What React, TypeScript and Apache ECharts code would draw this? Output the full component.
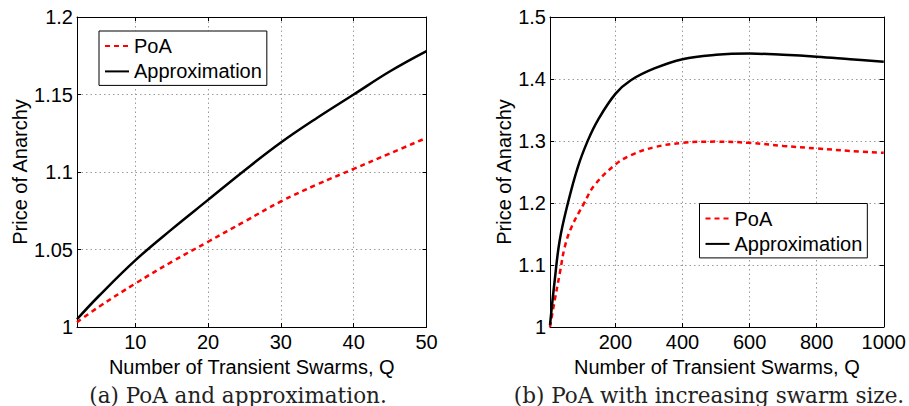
import React, { useEffect, useRef } from "react";
import * as echarts from "echarts";

// Left panel: Q from 2 to 50
const leftQ = [2, 5, 10, 15, 20, 25, 30, 35, 40, 45, 50];
const leftPoA = [1.003, 1.013, 1.028, 1.042, 1.055, 1.068, 1.081, 1.092, 1.102, 1.112, 1.122];
const leftApprox = [1.005, 1.02, 1.043, 1.063, 1.082, 1.101, 1.119, 1.135, 1.15, 1.165, 1.178];

// Right panel: Q up to 1000
const rightPoAQ = [5, 19, 34, 49, 69, 106, 138, 200, 246, 316, 400, 500, 600, 700, 800, 900, 1000];
const rightPoA = [1.0, 1.043, 1.086, 1.129, 1.161, 1.199, 1.229, 1.262, 1.277, 1.29, 1.297, 1.299, 1.297, 1.292, 1.288, 1.284, 1.281];
const rightApproxQ = [5, 19, 34, 58, 88, 118, 147, 200, 246, 316, 400, 500, 600, 700, 800, 900, 1000];
const rightApprox = [1.003, 1.075, 1.14, 1.199, 1.258, 1.301, 1.333, 1.376, 1.398, 1.417, 1.432, 1.439, 1.441, 1.439, 1.436, 1.432, 1.428];

const seriesNames = ["PoA", "Approximation"];
const xAxisTitle = "Number of Transient Swarms, Q";
const yAxisTitle = "Price of Anarchy";
const captions = ["(a) PoA and approximation.", "(b) PoA with increasing swarm size."];

const SANS = "Liberation Sans";

const pair = (xs: number[], ys: number[]) => xs.map((x, i) => [x, ys[i]]);

function mainX(gridIndex: number, min: number, max: number) {
  return {
    gridIndex,
    type: "value",
    min,
    max,
    position: "bottom",
    axisLine: { show: true, onZero: false, lineStyle: { color: "#000", width: 1 } },
    axisTick: { show: true, inside: true, length: 4, lineStyle: { color: "#000" } },
    axisLabel: {
      showMinLabel: false,
      color: "#000",
      fontSize: 20,
      fontFamily: SANS,
      margin: 5,
      formatter: (v: number) => String(v),
    },
    splitLine: { show: true, lineStyle: { color: "#9a9a9a", type: [1.5, 3], width: 1 } },
    name: xAxisTitle,
    nameLocation: "middle",
    nameGap: 23,
    nameTextStyle: { color: "#000", fontSize: 20, fontFamily: SANS },
  };
}
function topX(gridIndex: number, min: number, max: number) {
  return {
    gridIndex,
    type: "value",
    min,
    max,
    position: "top",
    axisLine: { show: true, onZero: false, lineStyle: { color: "#000", width: 1 } },
    axisTick: { show: true, inside: true, length: 4, lineStyle: { color: "#000" } },
    axisLabel: { show: false },
    splitLine: { show: false },
  };
}
function mainY(gridIndex: number, min: number, max: number, interval: number, gap: number) {
  return {
    gridIndex,
    type: "value",
    min,
    max,
    interval,
    position: "left",
    axisLine: { show: true, onZero: false, lineStyle: { color: "#000", width: 1 } },
    axisTick: { show: true, inside: true, length: 4, lineStyle: { color: "#000" } },
    axisLabel: { color: "#000", fontSize: 20, fontFamily: SANS, margin: 4 },
    splitLine: { show: true, lineStyle: { color: "#9a9a9a", type: [1.5, 3], width: 1 } },
    name: yAxisTitle,
    nameLocation: "middle",
    nameGap: gap,
    nameTextStyle: { color: "#000", fontSize: 20, fontFamily: SANS },
  };
}
function rightY(gridIndex: number, min: number, max: number, interval: number) {
  return {
    gridIndex,
    type: "value",
    min,
    max,
    interval,
    position: "right",
    axisLine: { show: true, onZero: false, lineStyle: { color: "#000", width: 1 } },
    axisTick: { show: true, inside: true, length: 4, lineStyle: { color: "#000" } },
    axisLabel: { show: false },
    splitLine: { show: false },
  };
}

function lineSeries(name: string, xi: number, data: number[][], dashed: boolean) {
  return {
    type: "line",
    name,
    xAxisIndex: xi,
    yAxisIndex: xi,
    data,
    symbol: "none",
    showSymbol: false,
    smooth: 0.4,
    lineStyle: dashed ? { color: "#ff0000", width: 2.5, type: [5, 4] } : { color: "#000", width: 2.5 },
    itemStyle: { color: dashed ? "#ff0000" : "#000" },
    z: dashed ? 2 : 3,
  };
}

function legendAt(left: number, top: number) {
  return {
    left,
    top,
    orient: "vertical",
    data: seriesNames,
    itemWidth: 24,
    itemHeight: 14,
    itemGap: 5.4,
    padding: [5, 5, 4, 5],
    borderColor: "#000",
    borderWidth: 1,
    borderRadius: 0,
    backgroundColor: "#fff",
    selectedMode: false,
    itemStyle: { color: "rgba(0,0,0,0)", borderColor: "rgba(0,0,0,0)", borderWidth: 0, opacity: 0 },
    textStyle: { color: "#000", fontSize: 20, fontFamily: SANS },
    z: 10,
  };
}

export default function App() {
  const ref = useRef<HTMLDivElement>(null);
  useEffect(() => {
    if (!ref.current) return;
    const chart = echarts.init(ref.current, undefined, { renderer: "svg" });
    chart.setOption({
      animation: false,
      backgroundColor: "#fff",
      grid: [
        { left: 77, top: 17, width: 349.5, height: 310 },
        { left: 550, top: 17, width: 335, height: 310 },
      ],
      xAxis: [mainX(0, 2, 50), topX(0, 2, 50), mainX(1, 5, 1000), topX(1, 5, 1000)],
      yAxis: [mainY(0, 1, 1.2, 0.05, 47), rightY(0, 1, 1.2, 0.05), mainY(1, 1, 1.5, 0.1, 35), rightY(1, 1, 1.5, 0.1)],
      legend: [legendAt(99, 31), legendAt(699.5, 203.5)],
      series: [
        lineSeries(seriesNames[0], 0, pair(leftQ, leftPoA), true),
        lineSeries(seriesNames[1], 0, pair(leftQ, leftApprox), false),
        lineSeries(seriesNames[0], 2, pair(rightPoAQ, rightPoA), true),
        lineSeries(seriesNames[1], 2, pair(rightApproxQ, rightApprox), false),
      ],
      graphic: [
        {
          type: "text",
          x: 238,
          y: 395,
          style: { text: captions[0], fill: "#222", font: "21.5px 'DejaVu Serif'", textAlign: "center", textVerticalAlign: "middle" },
        },
        {
          type: "text",
          x: 709,
          y: 395,
          style: { text: captions[1], fill: "#222", font: "21.5px 'DejaVu Serif'", textAlign: "center", textVerticalAlign: "middle" },
        },
      ],
    });
    return () => chart.dispose();
  }, []);
  return <div ref={ref} style={{ position: "fixed", left: 0, top: 0, width: 909, height: 406 }} />;
}
